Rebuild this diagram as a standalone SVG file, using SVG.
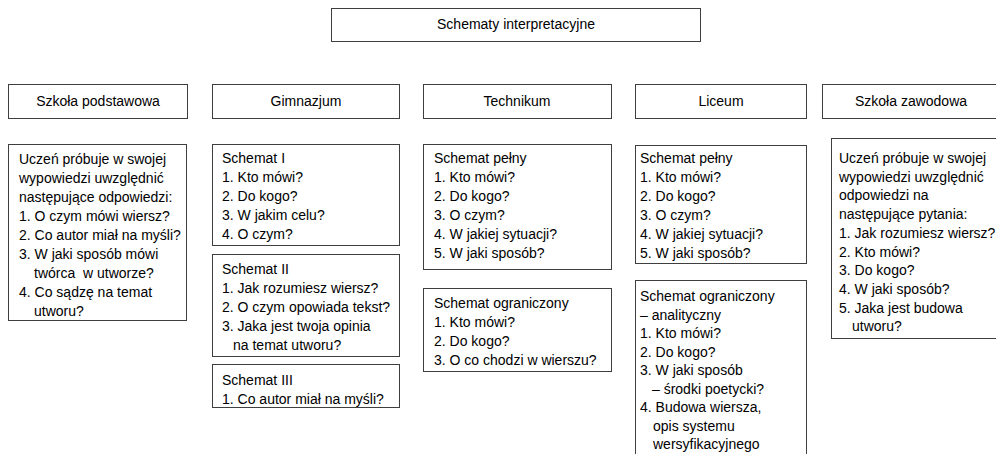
<svg xmlns="http://www.w3.org/2000/svg" width="996" height="454" viewBox="0 0 996 454">
<style>
rect{fill:#fff;stroke:#3f3f3f;stroke-width:1}
text{font-family:"Liberation Sans",Arial,sans-serif;font-size:14px;fill:#000;white-space:pre}
.c{text-anchor:middle}
</style>
<rect x="0" y="0" width="996" height="454" style="fill:#fff;stroke:none"/>
<g id="root">
<rect x="331.5" y="8.5" width="369" height="33"/>
<text class="c" x="516" y="29">Schematy interpretacyjne</text>
</g>
<g id="h-podstawowa">
<rect x="8.5" y="84.5" width="179" height="34"/>
<text class="c" x="98" y="106">Szkoła podstawowa</text>
</g>
<g id="h-gimnazjum">
<rect x="212.5" y="84.5" width="187" height="34"/>
<text class="c" x="306" y="106">Gimnazjum</text>
</g>
<g id="h-technikum">
<rect x="423.5" y="84.5" width="188" height="34"/>
<text class="c" x="517" y="106">Technikum</text>
</g>
<g id="h-liceum">
<rect x="635.5" y="84.5" width="171" height="34"/>
<text class="c" x="721" y="106">Liceum</text>
</g>
<g id="h-zawodowa">
<rect x="822.5" y="84.5" width="180" height="34"/>
<text class="c" x="911" y="106">Szkoła zawodowa</text>
</g>
<g id="podstawowa">
<rect x="8.5" y="144.5" width="178" height="176"/>
<text x="19" y="164">Uczeń próbuje w swojej</text>
<text x="19" y="183">wypowiedzi uwzględnić</text>
<text x="19" y="202">następujące odpowiedzi:</text>
<text x="19" y="221">1. O czym mówi wiersz?</text>
<text x="19" y="240">2. Co autor miał na myśli?</text>
<text x="19" y="259">3. W jaki sposób mówi</text>
<text x="34" y="278">twórca  w utworze?</text>
<text x="19" y="297">4. Co sądzę na temat</text>
<text x="34" y="316">utworu?</text>
</g>
<g id="gim-1">
<rect x="212.5" y="144.5" width="187" height="101"/>
<text x="222" y="163">Schemat I</text>
<text x="222" y="182">1. Kto mówi?</text>
<text x="222" y="201">2. Do kogo?</text>
<text x="222" y="220">3. W jakim celu?</text>
<text x="222" y="239">4. O czym?</text>
</g>
<g id="gim-2">
<rect x="212.5" y="254.5" width="187" height="102"/>
<text x="222" y="274">Schemat II</text>
<text x="222" y="293">1. Jak rozumiesz wiersz?</text>
<text x="222" y="312">2. O czym opowiada tekst?</text>
<text x="222" y="331">3. Jaka jest twoja opinia</text>
<text x="233" y="350">na temat utworu?</text>
</g>
<g id="gim-3">
<rect x="212.5" y="364.5" width="187" height="43"/>
<text x="222" y="385">Schemat III</text>
<text x="222" y="404">1. Co autor miał na myśli?</text>
</g>
<g id="tech-1">
<rect x="423.5" y="144.5" width="188" height="125"/>
<text x="434" y="163">Schemat pełny</text>
<text x="434" y="182">1. Kto mówi?</text>
<text x="434" y="201">2. Do kogo?</text>
<text x="434" y="220">3. O czym?</text>
<text x="434" y="239">4. W jakiej sytuacji?</text>
<text x="434" y="258">5. W jaki sposób?</text>
</g>
<g id="tech-2">
<rect x="423.5" y="288.5" width="188" height="83"/>
<text x="434" y="308">Schemat ograniczony</text>
<text x="434" y="327">1. Kto mówi?</text>
<text x="434" y="346">2. Do kogo?</text>
<text x="434" y="365">3. O co chodzi w wierszu?</text>
</g>
<g id="lic-1">
<rect x="635.5" y="145.5" width="171" height="118"/>
<text x="640" y="163">Schemat pełny</text>
<text x="640" y="182">1. Kto mówi?</text>
<text x="640" y="201">2. Do kogo?</text>
<text x="640" y="220">3. O czym?</text>
<text x="640" y="239">4. W jakiej sytuacji?</text>
<text x="640" y="258">5. W jaki sposób?</text>
</g>
<g id="lic-2">
<rect x="635.5" y="280.5" width="171" height="190"/>
<text x="640" y="301">Schemat ograniczony</text>
<text x="640" y="319.5">– analityczny</text>
<text x="640" y="338">1. Kto mówi?</text>
<text x="640" y="356.5">2. Do kogo?</text>
<text x="640" y="375">3. W jaki sposób</text>
<text x="652" y="393.5">– środki poetycki?</text>
<text x="640" y="412">4. Budowa wiersza,</text>
<text x="653" y="430.5">opis systemu</text>
<text x="653" y="449">wersyfikacyjnego</text>
</g>
<g id="zawodowa">
<rect x="831.5" y="138.5" width="180" height="200"/>
<text x="839" y="163">Uczeń próbuje w swojej</text>
<text x="839" y="181.7">wypowiedzi uwzględnić</text>
<text x="839" y="200.4">odpowiedzi na</text>
<text x="839" y="219.1">następujące pytania:</text>
<text x="839" y="237.8">1. Jak rozumiesz wiersz?</text>
<text x="839" y="256.5">2. Kto mówi?</text>
<text x="839" y="275.2">3. Do kogo?</text>
<text x="839" y="293.9">4. W jaki sposób?</text>
<text x="839" y="312.6">5. Jaka jest budowa</text>
<text x="852" y="331.3">utworu?</text>
</g>
<g id="connectors"></g>
</svg>
